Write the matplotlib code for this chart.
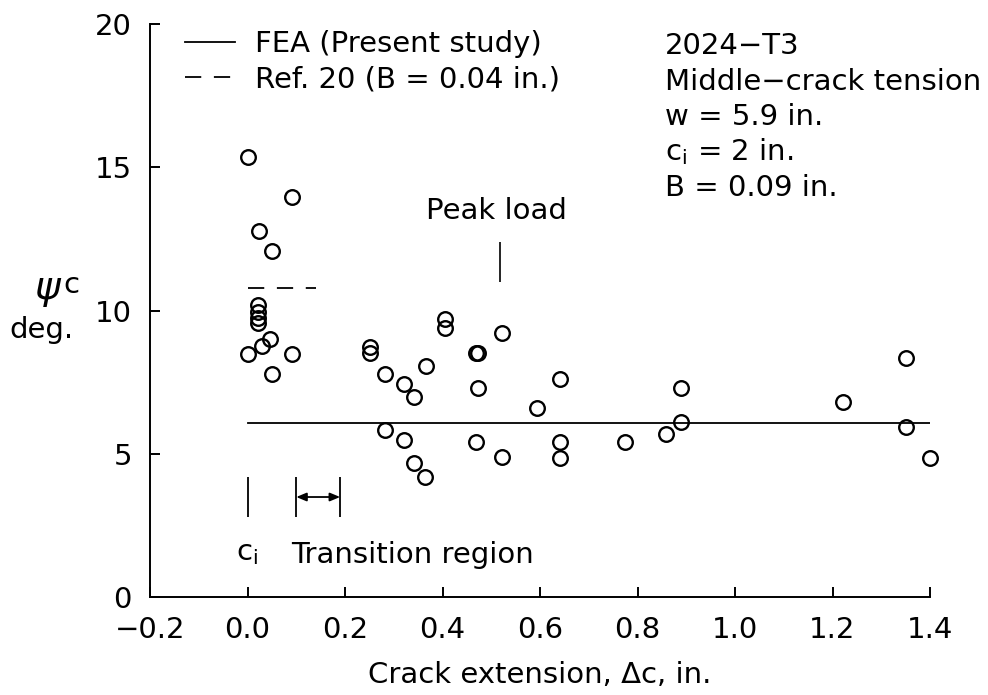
import matplotlib
matplotlib.use("Agg")
import matplotlib.pyplot as plt
import numpy as np

# ---------------- data ----------------
crack_ext = [0.000, 0.092, 0.024, 0.051, 0.022, 0.022, 0.022, 0.022, 0.046, 0.030,
             0.000, 0.092, 0.051, 0.252, 0.252, 0.282, 0.321, 0.341, 0.366, 0.405,
             0.405, 0.468, 0.472, 0.472, 0.523, 0.593, 0.641, 0.282, 0.321, 0.341,
             0.365, 0.468, 0.522, 0.641, 0.641, 0.774, 0.859, 0.890, 0.890, 1.222,
             1.350, 1.350, 1.399]
psi_c = [15.35, 13.95, 12.78, 12.08, 10.20, 9.95, 9.75, 9.55, 9.00, 8.75,
         8.47, 8.47, 7.78, 8.73, 8.50, 7.78, 7.45, 6.98, 8.08, 9.70,
         9.38, 8.50, 8.50, 7.28, 9.20, 6.58, 7.60, 5.82, 5.47, 4.68,
         4.20, 5.41, 4.90, 5.41, 4.85, 5.40, 5.70, 6.11, 7.30, 6.81,
         8.35, 5.93, 4.86]

fea_x = [0.0, 1.4]
fea_y = [6.07, 6.07]
ref20_x = [0.0, 0.14]
ref20_y = [10.8, 10.8]

x_ticks = [-0.2, 0.0, 0.2, 0.4, 0.6, 0.8, 1.0, 1.2, 1.4]
x_ticklabels = ["\u22120.2", "0.0", "0.2", "0.4", "0.6", "0.8", "1.0", "1.2", "1.4"]
y_ticks = [0, 5, 10, 15, 20]

peak_load_x = 0.518
peak_load_y = (11.0, 12.38)
ci_x = 0.0
trans_x = (0.10, 0.19)
marker_y = (2.80, 4.19)
arrow_y = 3.49

info_lines = ["2024\u2212T3", "Middle\u2212crack tension", "w = 5.9 in.",
              r"c$_{\rm i}$ = 2 in.", "B = 0.09 in."]

# ---------------- figure ----------------
plt.rcParams['font.family'] = ['DejaVu Sans']
plt.rcParams['mathtext.fontset'] = 'dejavusans'
FS = 21

fig = plt.figure(figsize=(9.88, 6.95), dpi=100)
ax = fig.add_axes([150/988, 1 - 597/695, 780/988, (597 - 24)/695])

ax.plot(fea_x, fea_y, color='black', lw=1.3, label='FEA (Present study)')
ax.plot(ref20_x, ref20_y, color='black', lw=1.3, linestyle=(0, (9, 7)),
        label='Ref. 20 (B = 0.04 in.)')
ax.plot(crack_ext, psi_c, linestyle='none', marker='o', ms=10.5,
        mfc='none', mec='black', mew=1.7, clip_on=False)

# annotations
ax.vlines(peak_load_x, *peak_load_y, color='black', lw=1.2)
ax.text(0.51, 13.2, "Peak load", ha='center', va='baseline', fontsize=FS)
ax.vlines([ci_x, trans_x[0], trans_x[1]], *marker_y, color='black', lw=1.3)
ax.annotate("", xy=(trans_x[1], arrow_y), xytext=(trans_x[0], arrow_y),
            arrowprops=dict(arrowstyle='<|-|>,head_length=0.6,head_width=0.25',
                            color='black', lw=1.3, shrinkA=0, shrinkB=0))
ax.text(ci_x, 1.53, r"c$_{\rm i}$", ha='center', va='center', fontsize=FS)
ax.text(0.09, 1.18, "Transition region", ha='left', va='baseline', fontsize=FS)

for i, line in enumerate(info_lines):
    fig.text(665/988, 1 - (54 + 35.5*i)/695, line, ha='left', va='baseline', fontsize=FS)

leg = ax.legend(loc='upper left', bbox_to_anchor=(0.045, 0.99), frameon=False,
                fontsize=FS, handlelength=1.7, handletextpad=0.7, labelspacing=0.25,
                borderpad=0, borderaxespad=0)

# axes styling
ax.set_xlim(-0.2, 1.4)
ax.set_ylim(0, 20)
ax.spines['top'].set_visible(False)
ax.spines['right'].set_visible(False)
for s in ('left', 'bottom'):
    ax.spines[s].set_linewidth(1.4)
ax.set_xticks(x_ticks)
ax.set_xticklabels(x_ticklabels)
ax.set_yticks(y_ticks)
ax.tick_params(direction='in', length=7, width=1.4, labelsize=FS)
ax.tick_params(axis='x', pad=14)
ax.tick_params(axis='y', pad=13)
ax.set_xlabel("Crack extension, \u0394c, in.", fontsize=FS, labelpad=12)

fig.text(48/988, 1 - 290/695, r"$\psi$", ha='center', va='center', fontsize=FS + 7)
fig.text(63/988, 1 - 285/695, "c", ha='left', va='center', fontsize=FS)
fig.text(41/988, 1 - 330/695, "deg.", ha='center', va='center', fontsize=FS)

fig.savefig("out.png", dpi=100)
